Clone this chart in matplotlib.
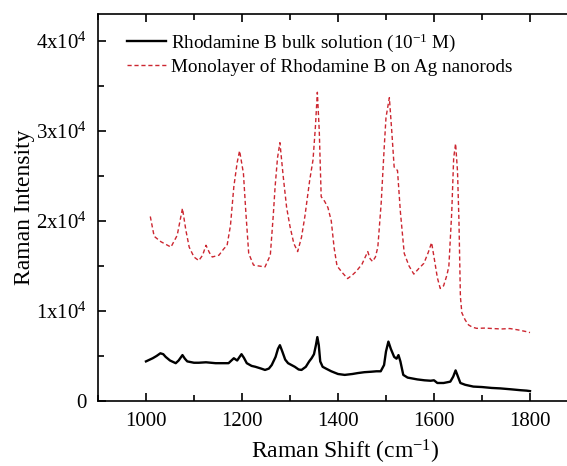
import numpy as np
import matplotlib.pyplot as plt
from matplotlib.ticker import MultipleLocator

plt.rcParams['font.family'] = ['Liberation Serif']
plt.rcParams['mathtext.fontset'] = 'custom'
plt.rcParams['mathtext.rm'] = 'Liberation Serif'
plt.rcParams['mathtext.it'] = 'Liberation Serif:italic'

# monolayer on Ag nanorods (red dashed)
mono_x = [1009, 1017, 1031, 1045, 1052, 1065, 1076, 1083, 1090, 1100, 1110, 1118,
          1125, 1132, 1138, 1152, 1162, 1169, 1176, 1183, 1190, 1195, 1203, 1208,
          1214, 1224, 1235, 1248, 1259, 1265, 1269, 1274, 1279, 1286, 1293, 1300,
          1308, 1316, 1324, 1331, 1341, 1348, 1353, 1357, 1361, 1365, 1372, 1379,
          1386, 1392, 1398, 1410, 1420, 1430, 1438, 1450, 1462, 1467, 1472, 1478,
          1483, 1490, 1496, 1500, 1507, 1512, 1517, 1524, 1530, 1538, 1548, 1558,
          1568, 1579, 1588, 1595, 1600, 1607, 1613, 1620, 1627, 1631, 1637, 1641,
          1645, 1649, 1652, 1655, 1658, 1665, 1672, 1680, 1689, 1705, 1723, 1740,
          1758, 1775, 1793, 1800]
mono_y = [20500, 18300, 17700, 17300, 17100, 18400, 21400, 19000, 17100, 16000, 15600, 16200,
          17300, 16500, 16000, 16200, 16900, 17300, 19500, 23800, 26500, 27800, 25300, 21000,
          16400, 15100, 15000, 14900, 16200, 20500, 23800, 27000, 28700, 24900, 21500, 19400,
          17500, 16600, 18200, 20500, 24500, 26800, 30500, 34300, 30000, 22700, 22200, 21500,
          20000, 17000, 15000, 14200, 13600, 14000, 14400, 15200, 16600, 15800, 15500, 16000,
          17100, 22000, 27900, 31500, 33700, 30000, 26000, 25600, 21000, 16400, 15000, 14100,
          14700, 15300, 16500, 17600, 16000, 13700, 12500, 12800, 14000, 15000, 21000, 27000,
          28600, 25500, 20000, 11600, 9800, 9000, 8450, 8200, 8070, 8100, 8050, 8000,
          8050, 7900, 7700, 7600]

# bulk solution (black solid)
bulk_x = [1000, 1008, 1014, 1022, 1030, 1036, 1041, 1050, 1062, 1068, 1076, 1081,
          1086, 1100, 1110, 1125, 1145, 1160, 1172, 1178, 1183, 1190, 1195, 1199,
          1204, 1210, 1220, 1228, 1240, 1248, 1256, 1262, 1270, 1275, 1279, 1284,
          1290, 1296, 1310, 1318, 1324, 1333, 1340, 1345, 1350, 1354, 1357, 1360,
          1363, 1368, 1375, 1386, 1400, 1414, 1430, 1441, 1455, 1469, 1480, 1489,
          1496, 1500, 1505, 1510, 1517, 1522, 1526, 1530, 1536, 1545, 1555, 1565,
          1580, 1593, 1600, 1607, 1620, 1634, 1640, 1645, 1650, 1655, 1665, 1682,
          1700, 1720, 1738, 1760, 1780, 1793, 1800]
bulk_y = [4400, 4600, 4750, 5000, 5300, 5200, 4900, 4500, 4200, 4500, 5100, 4700,
          4400, 4250, 4250, 4300, 4200, 4200, 4200, 4500, 4750, 4500, 4900, 5200,
          4800, 4200, 3900, 3800, 3600, 3450, 3600, 4000, 4900, 5800, 6200, 5500,
          4600, 4200, 3800, 3500, 3450, 3800, 4400, 4750, 5200, 6200, 7100, 6200,
          4400, 3800, 3600, 3300, 3000, 2900, 3000, 3100, 3200, 3250, 3300, 3300,
          4000, 5500, 6600, 5800, 4900, 4700, 5100, 4400, 2900, 2600, 2500, 2400,
          2300, 2250, 2300, 2000, 2000, 2150, 2700, 3400, 2700, 2000, 1800, 1600,
          1550, 1450, 1400, 1300, 1200, 1150, 1100]

y_ticks = [0, 10000, 20000, 30000, 40000]
y_ticklabels = ["0", "1x10$^4$", "2x10$^4$", "3x10$^4$", "4x10$^4$"]
x_ticks = [1000, 1200, 1400, 1600, 1800]

fig = plt.figure(figsize=(5.67, 4.66), dpi=100)
ax = fig.add_axes([0.1728, 0.1395, 0.8466, 0.8305])

ax.plot(bulk_x, bulk_y, color="black", lw=1.7,
        label="Rhodamine B bulk solution (10$^{-1}$ M)")
ax.plot(mono_x, mono_y, color="#cc2630", lw=1.0, ls=(0, (3, 2)),
        label="Monolayer of Rhodamine B on Ag nanorods")

ax.set_xlim(900, 1900)
ax.set_ylim(0, 43000)
ax.set_xticks(x_ticks)
ax.set_yticks(y_ticks)
ax.set_yticklabels(y_ticklabels)
ax.xaxis.set_minor_locator(MultipleLocator(100))
ax.yaxis.set_minor_locator(MultipleLocator(5000))
ax.tick_params(which="both", direction="in", top=True, right=True, labelsize=15, width=1.2)
ax.tick_params(which="major", length=6)
ax.tick_params(which="minor", length=4)
ax.tick_params(axis="y", pad=8)
ax.tick_params(axis="x", pad=8)
for s in ax.spines.values():
    s.set_linewidth(1.2)

ax.set_xlabel("Raman Shift (cm$^{-1}$)", fontsize=17, labelpad=4)
ax.xaxis.set_label_coords(0.515, -0.095)
ax.set_ylabel("Raman Intensity", fontsize=17, labelpad=1)
ax.legend(loc="upper left", frameon=False, fontsize=13.8, handlelength=2.0,
          handletextpad=0.3, labelspacing=0.2, borderaxespad=0.0,
          bbox_to_anchor=(0.045, 0.975))

fig.savefig("out.png", dpi=100)
